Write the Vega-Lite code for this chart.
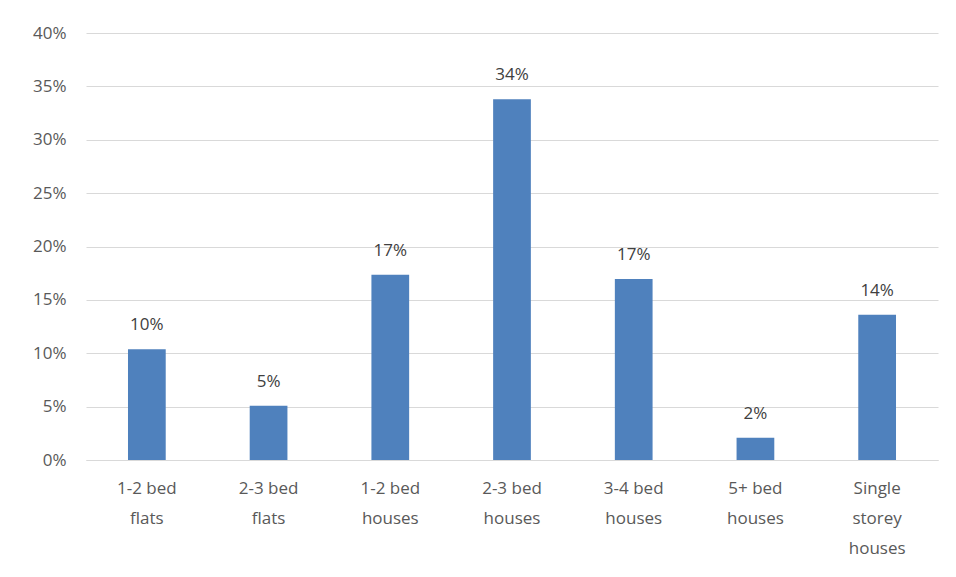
{
  "$schema": "https://vega.github.io/schema/vega-lite/v6.json",
  "width": 852,
  "height": 427,
  "autosize": {"type": "none"},
  "padding": {"left": 86, "top": 33, "right": 18, "bottom": 117},
  "background": "white",
  "config": {
    "view": {"stroke": null},
    "font": "Open Sans"
  },
  "data": {
    "values": [
      {"cat": "1-2 bed|flats", "v": 0.1037, "lbl": "10%"},
      {"cat": "2-3 bed|flats", "v": 0.0509, "lbl": "5%"},
      {"cat": "1-2 bed|houses", "v": 0.1735, "lbl": "17%"},
      {"cat": "2-3 bed|houses", "v": 0.338, "lbl": "34%"},
      {"cat": "3-4 bed|houses", "v": 0.1695, "lbl": "17%"},
      {"cat": "5+ bed|houses", "v": 0.0209, "lbl": "2%"},
      {"cat": "Single|storey|houses", "v": 0.136, "lbl": "14%"}
    ]
  },
  "encoding": {
    "x": {
      "field": "cat",
      "type": "nominal",
      "sort": null,
      "scale": {"paddingInner": 0.69, "paddingOuter": 0.345},
      "axis": {
        "title": null,
        "labelAngle": 0,
        "labelExpr": "split(datum.value, '|')",
        "labelFontSize": 17,
        "labelColor": "#595959",
        "labelLineHeight": 30,
        "labelPadding": 20,
        "labelBaseline": "top",
        "ticks": false,
        "domainColor": "#d9d9d9",
        "domainWidth": 1
      }
    },
    "y": {
      "field": "v",
      "type": "quantitative",
      "scale": {"domain": [0, 0.4]},
      "axis": {
        "title": null,
        "format": ".0%",
        "values": [0, 0.05, 0.1, 0.15, 0.2, 0.25, 0.3, 0.35, 0.4],
        "labelOverlap": false,
        "labelFlush": false,
        "labelFontSize": 17,
        "labelColor": "#595959",
        "labelPadding": 20,
        "ticks": false,
        "domain": false,
        "gridColor": "#d9d9d9",
        "gridWidth": 1
      }
    }
  },
  "layer": [
    {"mark": {"type": "bar", "color": "#4f81bd"}},
    {
      "mark": {"type": "text", "baseline": "bottom", "dy": -15, "fontSize": 17, "color": "#404040"},
      "encoding": {"text": {"field": "lbl"}}
    }
  ]
}
